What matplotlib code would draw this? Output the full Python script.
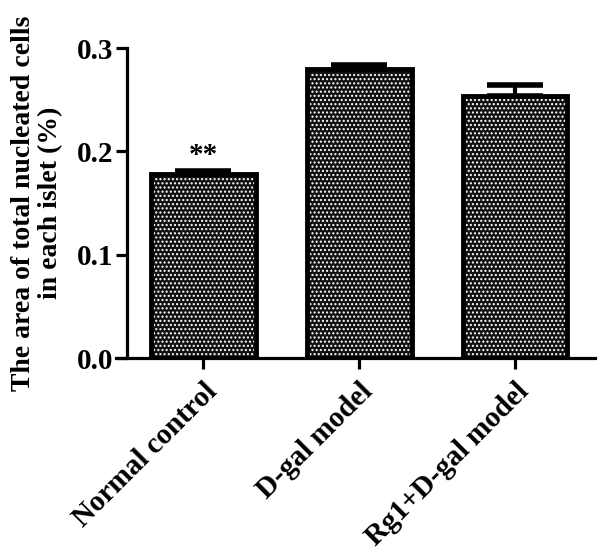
import matplotlib.pyplot as plt
import numpy as np

plt.rcParams['font.family'] = ['Liberation Serif', 'DejaVu Serif']
plt.rcParams['font.weight'] = 'bold'

# data
groups = ['Normal control', 'D-gal model', 'Rg1+D-gal model']
means = [0.178, 0.280, 0.254]
errors = [0.003, 0.004, 0.010]
marks = ['**', '', '']

fig = plt.figure(figsize=(6.02, 5.53), dpi=100)
ax = fig.add_axes([0.211, 0.3526, 0.777, 0.5606])

x = np.arange(len(groups))
w = 0.67

# fill: dark with white dots, then thick black outline
ax.bar(x, means, w, color='#111111', edgecolor='white', hatch='....', linewidth=0, zorder=2)
ax.bar(x, means, w, color='none', edgecolor='black', linewidth=3.5, zorder=3)
ax.errorbar(x, means, yerr=[np.zeros(len(means)), errors], fmt='none',
            ecolor='black', elinewidth=3, capsize=20, capthick=4, zorder=4)

for xi, m, e, s in zip(x, means, errors, marks):
    if s:
        ax.text(xi, m + e + 0.002, s, ha='center', va='bottom', fontsize=21, fontweight='bold')

ax.set_xlim(-0.49, 2.51)
ax.set_ylim(0, 0.3)
ax.set_yticks([0.0, 0.1, 0.2, 0.3])
ax.set_yticklabels(['0.0', '0.1', '0.2', '0.3'])
ax.set_xticks(x)
ax.set_xticklabels(groups, rotation=45, ha='right', rotation_mode='anchor')

ax.spines['top'].set_visible(False)
ax.spines['right'].set_visible(False)
ax.spines['left'].set_linewidth(2.3)
ax.spines['bottom'].set_linewidth(2.3)
ax.spines['bottom'].set_bounds(-0.56, 2.51)
ax.tick_params(axis='both', width=2.3, length=8, labelsize=21)
ax.tick_params(axis='y', pad=2)
ax.tick_params(axis='x', labelsize=21, pad=6)

ax.set_ylabel('The area of total nucleated cells\nin each islet (%)', fontsize=20,
              fontweight='bold', labelpad=10, linespacing=1.1)

plt.savefig('out.png', dpi=100)
